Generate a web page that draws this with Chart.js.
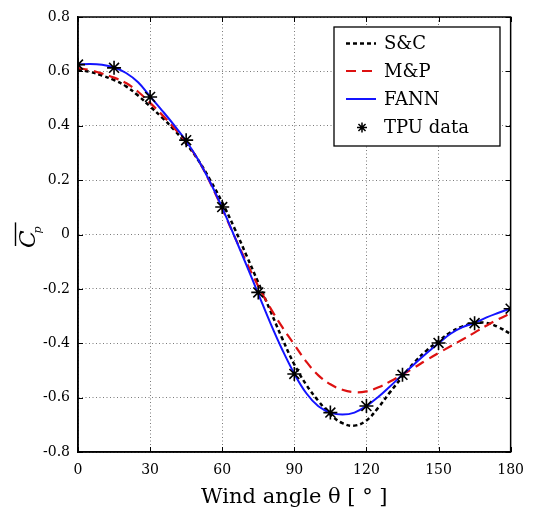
<!DOCTYPE html>
<html><head><meta charset="utf-8">
<script src="https://cdn.jsdelivr.net/npm/chart.js@4.4.0/dist/chart.umd.min.js"></script>
<style>html,body{margin:0;padding:0;background:#fff}canvas{display:block}</style>
</head><body>
<canvas id="c" width="534" height="513"></canvas>
<script>
const curveAngles = [0,5,10,15,20,25,30,35,40,45,50,55,60,65,70,75,80,85,90,95,100,105,110,115,120,125,130,135,140,145,150,155,160,165,170,175,180];
const scValues = [0.607,0.598,0.585,0.568,0.545,0.511,0.471,0.430,0.385,0.334,0.274,0.200,0.118,0.025,-0.075,-0.177,-0.280,-0.383,-0.478,-0.553,-0.612,-0.662,-0.694,-0.703,-0.684,-0.636,-0.578,-0.523,-0.470,-0.427,-0.392,-0.360,-0.338,-0.326,-0.325,-0.341,-0.366];
const mpValues = [0.612,0.605,0.592,0.577,0.557,0.525,0.484,0.440,0.392,0.339,0.274,0.190,0.095,-0.005,-0.100,-0.190,-0.270,-0.341,-0.405,-0.468,-0.518,-0.551,-0.571,-0.580,-0.577,-0.562,-0.540,-0.515,-0.489,-0.462,-0.436,-0.411,-0.386,-0.361,-0.335,-0.311,-0.290];
const fannValues = [0.625,0.627,0.624,0.614,0.594,0.560,0.508,0.456,0.402,0.344,0.275,0.192,0.098,-0.005,-0.111,-0.218,-0.325,-0.424,-0.512,-0.584,-0.632,-0.655,-0.662,-0.655,-0.631,-0.597,-0.557,-0.516,-0.476,-0.437,-0.400,-0.365,-0.341,-0.325,-0.305,-0.288,-0.272];
const tpuAngles = [0,15,30,45,60,75,90,105,120,135,150,165,180];
const tpuValues = [0.625,0.613,0.506,0.347,0.101,-0.213,-0.513,-0.655,-0.631,-0.516,-0.399,-0.326,-0.273];
const xTicks = [0,30,60,90,120,150,180];
const yTicks = [-0.8,-0.6,-0.4,-0.2,0,0.2,0.4,0.6,0.8];
const seriesLabels = ['S&C','M&P','FANN','TPU data'];
const xTitle = 'Wind angle \u03B8 [ \u00B0 ]';

const FONT = '"DejaVu Serif", serif';
const pts = (xs, ys) => xs.map((x, i) => ({x, y: ys[i]}));

const extras = {
  id: 'extras',
  afterDraw(chart) {
    const {ctx, chartArea: a, scales: {x, y}} = chart;
    ctx.save();
    ctx.strokeStyle = '#000'; ctx.lineWidth = 1;
    ctx.beginPath();
    xTicks.forEach(v => {
      const px = Math.round(x.getPixelForValue(v)) + 0.5;
      ctx.moveTo(px, a.bottom); ctx.lineTo(px, a.bottom - 5);
      ctx.moveTo(px, a.top); ctx.lineTo(px, a.top + 5);
    });
    yTicks.forEach(v => {
      const py = Math.round(y.getPixelForValue(v)) + 0.5;
      ctx.moveTo(a.left, py); ctx.lineTo(a.left + 5, py);
      ctx.moveTo(a.right, py); ctx.lineTo(a.right - 5, py);
    });
    ctx.stroke();
    ctx.lineWidth = 1.5;
    ctx.strokeRect(a.left, a.top, a.right - a.left, a.bottom - a.top);

    ctx.save();
    ctx.translate(35, 248);
    ctx.rotate(-Math.PI / 2);
    ctx.fillStyle = '#000';
    ctx.textBaseline = 'alphabetic';
    ctx.font = 'italic 23px ' + FONT;
    ctx.fillText('C', 0, 0);
    const cw = ctx.measureText('C').width;
    ctx.font = 'italic 11px ' + FONT;
    ctx.fillText('p', cw - 3, 6);
    ctx.lineWidth = 1.4;
    ctx.beginPath();
    ctx.moveTo(2, -19.5); ctx.lineTo(cw + 8, -19.5);
    ctx.stroke();
    ctx.restore();

    const lx = 334, ly = 27, lw = 166, lh = 119;
    ctx.fillStyle = '#fff';
    ctx.fillRect(lx, ly, lw, lh);
    ctx.strokeStyle = '#000'; ctx.lineWidth = 1.3;
    ctx.strokeRect(lx, ly, lw, lh);
    const rows = [43.5, 71, 99, 127.5];
    const ds = chart.data.datasets;
    ctx.font = '18px ' + FONT;
    ctx.textBaseline = 'middle';
    ds.forEach((d, i) => {
      const ry = rows[i];
      if (d.showLine === false) {
        const cx = 362, r = 5;
        ctx.strokeStyle = d.borderColor; ctx.lineWidth = 1.5;
        ctx.beginPath();
        for (let k = 0; k < 4; k++) {
          const ang = k * Math.PI / 4;
          ctx.moveTo(cx - r * Math.cos(ang), ry - r * Math.sin(ang));
          ctx.lineTo(cx + r * Math.cos(ang), ry + r * Math.sin(ang));
        }
        ctx.stroke();
      } else {
        ctx.strokeStyle = d.borderColor; ctx.lineWidth = d.borderWidth;
        ctx.setLineDash(d.borderDash || []);
        ctx.beginPath(); ctx.moveTo(346, ry); ctx.lineTo(376, ry); ctx.stroke();
        ctx.setLineDash([]);
      }
      ctx.fillStyle = '#000';
      ctx.fillText(d.label, 384, ry + 1);
    });
    ctx.restore();
  }
};

new Chart(document.getElementById('c'), {
  type: 'line',
  data: {
    datasets: [
      {label: seriesLabels[0], data: pts(curveAngles, scValues), borderColor: '#000', borderWidth: 2.5, borderDash: [4, 3], pointRadius: 0, tension: 0.4, order: 3},
      {label: seriesLabels[1], data: pts(curveAngles, mpValues), borderColor: '#dd1111', borderWidth: 2.2, borderDash: [10, 6], pointRadius: 0, tension: 0.4, order: 2},
      {label: seriesLabels[2], data: pts(curveAngles, fannValues), borderColor: '#1414ff', borderWidth: 2, pointRadius: 0, tension: 0.4, order: 1},
      {label: seriesLabels[3], data: pts(tpuAngles, tpuValues), showLine: false, borderColor: '#000', backgroundColor: '#000', pointStyle: 'star', pointRadius: 7, pointBorderWidth: 1.6, order: 0}
    ]
  },
  options: {
    responsive: false,
    animation: false,
    events: [],
    layout: {padding: {top: 17, right: 22, left: 0, bottom: 0}},
    plugins: {legend: {display: false}, tooltip: {enabled: false}},
    scales: {
      x: {
        type: 'linear', min: 0, max: 180,
        afterBuildTicks: s => { s.ticks = xTicks.map(v => ({value: v})); },
        afterFit: s => { s.height = 61; },
        grid: {color: '#7a7a7a', lineWidth: 1, drawTicks: false},
        border: {display: true, color: '#000', width: 1.5, dash: [1, 2.5]},
        ticks: {font: {family: FONT, size: 14}, color: '#000', padding: 10, maxRotation: 0},
        title: {display: true, text: xTitle, font: {family: FONT, size: 21}, color: '#000', padding: {top: 0, bottom: 3}}
      },
      y: {
        type: 'linear', min: -0.8, max: 0.8,
        afterBuildTicks: s => { s.ticks = yTicks.map(v => ({value: v})); },
        afterFit: s => { s.width = 78; },
        grid: {color: '#7a7a7a', lineWidth: 1, drawTicks: false},
        border: {display: true, color: '#000', width: 1.5, dash: [1, 2.5]},
        ticks: {font: {family: FONT, size: 14}, color: '#000', padding: 8,
          callback: v => (Math.abs(v) < 1e-9 ? '0' : v.toFixed(1))}
      }
    }
  },
  plugins: [extras]
});
</script>
</body></html>
